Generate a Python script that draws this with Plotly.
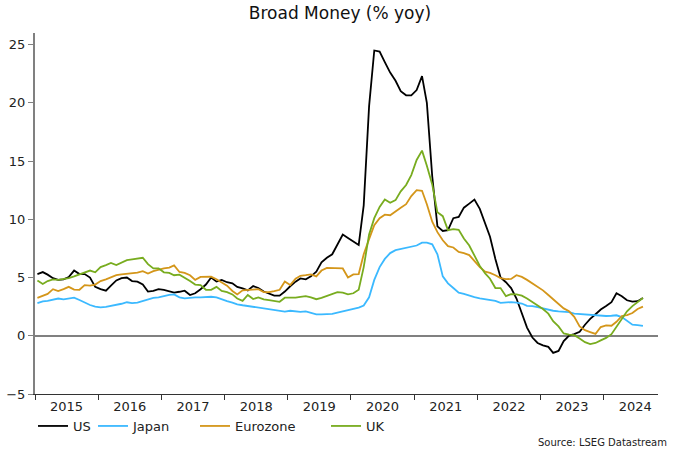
import pandas as pd
import plotly.graph_objects as go

# monthly, Jan 2015 - Aug 2024 (% yoy)
months = pd.date_range("2015-01-01", periods=116, freq="MS") + pd.Timedelta(days=14)

us = [
    5.3, 5.47, 5.25, 4.95, 4.8, 4.85, 5.05, 5.6, 5.3, 5.3, 5.0, 4.2,
    4.0, 3.87, 4.3, 4.75, 4.95, 5.0, 4.7, 4.65, 4.4, 3.8, 3.85, 4.0,
    3.95, 3.84, 3.7, 3.78, 3.87, 3.5, 3.65, 4.0, 4.4, 5.0, 4.65, 4.8,
    4.6, 4.5, 4.2, 4.07, 3.9, 4.27, 4.1, 3.8, 3.6, 3.45, 3.45, 3.8,
    4.25, 4.65, 4.92, 4.85, 5.1, 5.5, 6.3, 6.7, 7.0, 7.9, 8.7, 8.4,
    8.1, 7.8, 11.2, 19.7, 24.5, 24.4, 23.5, 22.6, 21.9, 21.0, 20.65, 20.65,
    21.1, 22.3, 20.0, 13.7, 9.4, 9.0, 9.07, 10.1, 10.2, 11.0, 11.35, 11.7,
    10.9, 9.7, 8.5, 6.6, 5.0, 4.6, 4.1, 3.2, 1.9, 0.7, -0.15, -0.62,
    -0.82, -0.95, -1.47, -1.3, -0.46, 0.02, 0.14, 0.35, 0.95, 1.45, 1.85, 2.25,
    2.55, 2.88, 3.65, 3.4, 3.05, 2.93, 2.97, 3.25,
]
japan = [
    2.8, 2.95, 3.0, 3.07, 3.2, 3.12, 3.17, 3.27, 3.07, 2.84, 2.64, 2.5,
    2.44, 2.48, 2.55, 2.68, 2.75, 2.88, 2.8, 2.85, 3.0, 3.12, 3.25, 3.3,
    3.42, 3.52, 3.55, 3.3, 3.22, 3.28, 3.3, 3.3, 3.32, 3.35, 3.3, 3.12,
    2.98, 2.85, 2.7, 2.62, 2.55, 2.46, 2.42, 2.33, 2.27, 2.2, 2.1, 2.08,
    2.15, 2.12, 2.06, 2.1, 1.95, 1.83, 1.83, 1.83, 1.88, 1.98, 2.1, 2.2,
    2.3, 2.42, 2.6, 3.3, 4.8, 5.9, 6.6, 7.1, 7.35, 7.45, 7.5, 7.6,
    7.75, 8.0, 8.0, 7.85, 7.0, 5.1, 4.5, 4.1, 3.7, 3.6, 3.43, 3.32,
    3.22, 3.15, 3.1, 3.0, 2.83, 2.89, 2.89, 2.85, 2.77, 2.57, 2.55, 2.45,
    2.33, 2.2, 2.15, 2.1, 2.07, 2.03, 1.91, 1.87, 1.82, 1.78, 1.73, 1.68,
    1.7, 1.72, 1.76, 1.6, 1.25, 0.95, 0.91, 0.85,
]
eurozone = [
    3.25, 3.4, 3.6, 4.0, 3.84, 4.0, 4.2, 3.96, 3.95, 4.35, 4.3, 4.4,
    4.7, 4.85, 5.05, 5.2, 5.28, 5.33, 5.37, 5.42, 5.55, 5.35, 5.55, 5.7,
    5.79, 5.85, 6.05, 5.48, 5.4, 5.2, 4.8, 5.05, 5.07, 5.07, 4.85, 4.6,
    4.3, 3.85, 3.55, 3.9, 3.93, 3.93, 4.0, 3.75, 3.75, 3.83, 3.95, 4.65,
    4.35, 4.9, 5.15, 5.2, 5.27, 5.1, 5.6, 5.83, 5.8, 5.78, 5.78, 5.0,
    5.27, 5.3, 7.0, 8.3, 9.5, 10.1, 10.4, 10.35, 10.7, 11.0, 11.3, 12.0,
    12.5, 12.45, 11.3, 9.8, 8.9, 8.2, 7.7, 7.58, 7.2, 7.1, 6.93, 6.45,
    5.9, 5.5, 5.4, 5.2, 4.95, 4.86, 4.88, 5.2, 5.06, 4.8, 4.5, 4.15,
    3.9, 3.5, 3.12, 2.7, 2.35, 2.1, 1.63, 0.8, 0.48, 0.32, 0.16, 0.75,
    0.9, 0.86, 1.2, 1.7, 1.77, 1.95, 2.3, 2.5,
]
uk = [
    4.75, 4.45, 4.7, 4.85, 4.8, 4.87, 4.95, 5.1, 5.25, 5.45, 5.6, 5.45,
    5.9, 6.07, 6.25, 6.07, 6.3, 6.5, 6.56, 6.6, 6.7, 6.15, 5.79, 5.79,
    5.45, 5.4, 5.2, 5.25, 5.0, 4.7, 4.4, 4.35, 3.95, 3.95, 4.2, 3.85,
    3.75, 3.55, 3.2, 3.0, 3.5, 3.15, 3.3, 3.12, 3.07, 3.0, 2.92, 3.27,
    3.24, 3.27, 3.34, 3.4, 3.3, 3.14, 3.25, 3.4, 3.55, 3.75, 3.7, 3.56,
    3.65, 3.95, 5.9, 8.7, 10.1, 11.07, 11.7, 11.42, 11.65, 12.4, 12.95, 13.8,
    15.1, 15.9, 14.6, 13.0, 10.6, 10.27, 9.07, 9.15, 9.1, 8.35, 7.75, 6.85,
    6.0, 5.35, 4.9, 4.1, 4.1, 3.4, 3.58, 3.55, 3.45, 3.2, 2.9, 2.6,
    2.3, 1.9, 1.25, 0.8, 0.2, 0.1, 0.05, -0.23, -0.55, -0.72, -0.62, -0.4,
    -0.18, 0.14, 0.8, 1.5, 2.1, 2.55, 2.9, 3.25,
]

series = [
    ("US", us, "#000000", "legend2"),
    ("Japan", japan, "#3BB9FF", "legend3"),
    ("Eurozone", eurozone, "#D4961A", "legend4"),
    ("UK", uk, "#78AC1F", "legend5"),
]

font = "DejaVu Sans"

fig = go.Figure()
for name, vals, color, leg in series:
    fig.add_trace(go.Scatter(
        x=months, y=vals, name=name, mode="lines",
        line=dict(color=color, width=1.8), legend=leg,
    ))

# one legend per entry so each sits in its own slot under the axis
leg_style = dict(orientation="h", xref="container", yref="container",
                 y=1 - 426 / 453, yanchor="middle", xanchor="left",
                 bgcolor="rgba(0,0,0,0)", font=dict(family=font, size=13, color="#222"))

fig.update_layout(
    width=680, height=453,
    margin=dict(l=35, r=22, t=33, b=59),
    plot_bgcolor="white", paper_bgcolor="white",
    font=dict(family=font, size=13, color="#222"),
    title=dict(text="Broad Money (% yoy)", x=340 / 680, xref="container", xanchor="center",
               y=1 - 13 / 453, yref="container", yanchor="middle",
               font=dict(family=font, size=17, color="#111")),
    showlegend=True,
    legend2=dict(x=33 / 680, **leg_style),
    legend3=dict(x=93 / 680, **leg_style),
    legend4=dict(x=195 / 680, **leg_style),
    legend5=dict(x=326 / 680, **leg_style),
    xaxis=dict(
        type="date", range=["2015-01-01", "2024-11-10"],
        tick0="2015-01-01", dtick="M12", tickformat="%Y", ticklabelmode="period",
        ticks="outside", ticklen=5, tickcolor="#333", ticklabelstandoff=-5,
        showgrid=False, showline=True, linecolor="#333", linewidth=1, zeroline=False,
        automargin=False,
    ),
    yaxis=dict(
        range=[-5, 26], tickvals=[-5, 0, 5, 10, 15, 20, 25],
        ticks="outside", ticklen=5, tickcolor="#808080", showgrid=False,
        showline=True, linecolor="#808080", linewidth=2,
        zeroline=True, zerolinecolor="#808080", zerolinewidth=2,
        automargin=False,
    ),
    annotations=[dict(
        text="Source: LSEG Datastream", xref="paper", yref="paper",
        x=(669 - 35) / 623, y=(394 - 442) / 361, xanchor="right", yanchor="middle",
        showarrow=False, font=dict(family=font, size=10, color="#222"),
    )],
)

# page body has a default 8px margin; drop it so the figure fills the window
fig.write_html("out.html", config={"displayModeBar": False},
               post_script="document.body.style.margin='0';")
